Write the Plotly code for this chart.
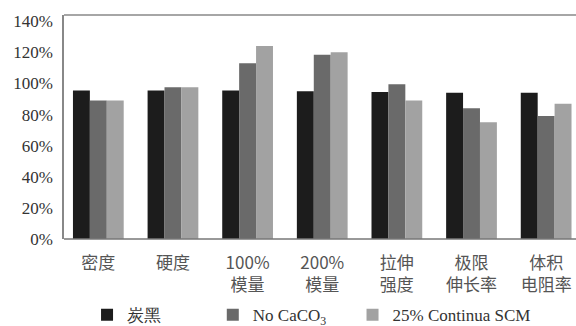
import plotly.graph_objects as go

categories = ["密度", "硬度", "100%<br>模量", "200%<br>模量", "拉伸<br>强度", "极限<br>伸长率", "体积<br>电阻率"]
series_names = ["炭黑", "No CaCO<sub>3</sub>", "25% Continua SCM"]
carbon_black = [0.955, 0.955, 0.955, 0.95, 0.945, 0.94, 0.94]
no_caco3 = [0.89, 0.975, 1.13, 1.185, 0.995, 0.84, 0.79]
continua_25 = [0.89, 0.975, 1.24, 1.20, 0.89, 0.75, 0.87]
colors = ["#1c1c1c", "#6a6a6a", "#a2a2a2"]
y_ticks = [0, 0.2, 0.4, 0.6, 0.8, 1.0, 1.2, 1.4]
y_ticktext = ["0%", "20%", "40%", "60%", "80%", "100%", "120%", "140%"]

# legend label padding (non-breaking spaces) to space entries like the reference
pads = [11, 5, 0]

fig = go.Figure()
for name, vals, c, p in zip(series_names, [carbon_black, no_caco3, continua_25], colors, pads):
    fig.add_trace(go.Bar(x=list(range(len(categories))), y=vals, name=name + "\u00a0" * p,
                         marker=dict(color=c, line=dict(width=0))))

fig.update_layout(
    width=576, height=326,
    margin=dict(l=64, r=0, t=15, b=87, autoexpand=False),
    paper_bgcolor="white", plot_bgcolor="white",
    barmode="group", bargap=0.32, bargroupgap=0,
    font=dict(family="Liberation Serif", size=16, color="#333"),
    xaxis=dict(range=[-0.46, 6.4], tickmode="array", tickvals=list(range(len(categories))),
               ticktext=categories, showgrid=False, zeroline=False,
               showline=False, ticks="", ticklabelstandoff=12,
               tickfont=dict(family="Noto Sans CJK SC", size=17, color="#555")),
    yaxis=dict(range=[0, 1.44], tickmode="array", tickvals=y_ticks, ticktext=y_ticktext,
               showgrid=False, zeroline=False, showline=True, linecolor="#888",
               linewidth=1.5, mirror=False, ticks="", ticklabelstandoff=6,
               tickfont=dict(family="Liberation Serif", size=17, color="#333")),
    legend=dict(orientation="h", x=0.045, y=-0.26, xanchor="left", yanchor="top",
                font=dict(family="Liberation Serif", size=17, color="#333"),
                itemwidth=30, tracegroupgap=0),
    showlegend=True,
)
fig.add_shape(type="line", xref="paper", yref="paper", x0=0, x1=1, y0=0, y1=0,
              line=dict(color="#777", width=1.5))
fig.add_shape(type="line", xref="paper", yref="paper", x0=0, x1=1, y0=1, y1=1,
              line=dict(color="#888", width=1.5))

fig.write_html("out.html")
